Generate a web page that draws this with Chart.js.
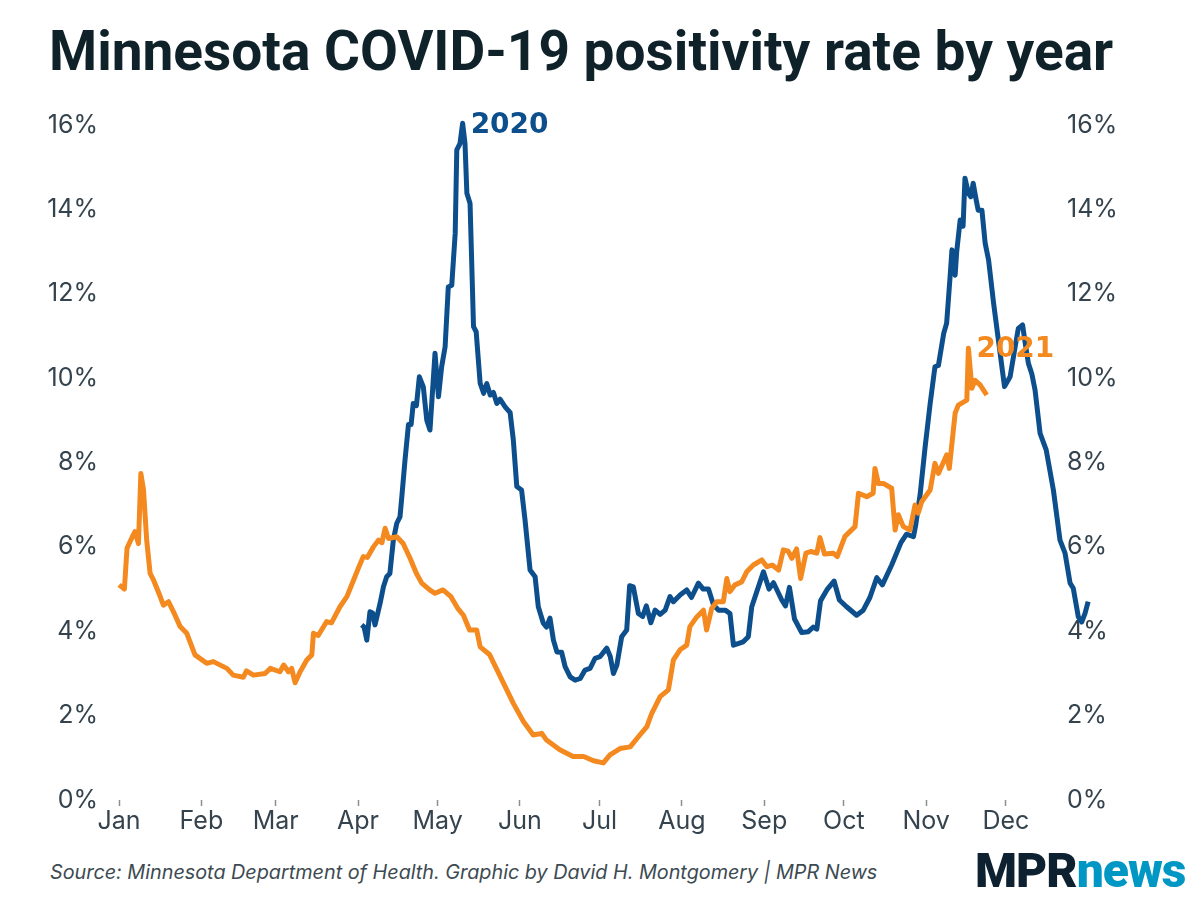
<!DOCTYPE html>
<html>
<head>
<meta charset="utf-8">
<script src="https://cdn.jsdelivr.net/npm/chart.js@4.4.1/dist/chart.umd.min.js"></script>
<style>
  html, body { margin: 0; padding: 0; background: #ffffff; }
  #wrap { position: relative; width: 1200px; height: 900px; overflow: hidden; background: #ffffff; }
  #title { position: absolute; left: 49px; top: 20px; margin: 0; font-family: Roboto, sans-serif; font-weight: 700;
           font-size: 55px; line-height: 62px; color: #0f2129; white-space: nowrap; letter-spacing: 0px; }
  #chartBox { position: absolute; left: 0; top: 100px; width: 1200px; height: 750px; }
  #source { position: absolute; left: 50px; top: 862px; font-family: Inter, sans-serif; font-style: italic;
            font-size: 19.8px; line-height: 20px; color: #3d4a52; white-space: nowrap; }
  #logo { position: absolute; left: 975px; top: 847px; font-family: Roboto, sans-serif; font-weight: 900;
          font-size: 48px; line-height: 48px; letter-spacing: -1px; white-space: nowrap; }
  #logo .mpr { color: #0d2131; }
  #logo .news { color: #0097c4; }
</style>
</head>
<body>
<div id="wrap">
  <h1 id="title">Minnesota COVID-19 positivity rate by year</h1>
  <div id="chartBox"><canvas id="chart"></canvas></div>
  <div id="source">Source: Minnesota Department of Health. Graphic by David H. Montgomery | MPR News</div>
  <div id="logo"><span class="mpr">MPR</span><span class="news">news</span></div>
</div>
<script>
// ---- Data (day of year, 0 = Jan 1; values in percent) ----
const monthLabels = ["Jan","Feb","Mar","Apr","May","Jun","Jul","Aug","Sep","Oct","Nov","Dec"];
const monthStartDays = [0, 31, 59, 90, 120, 151, 181, 212, 243, 273, 304, 334];
const yTickValues = [0, 2, 4, 6, 8, 10, 12, 14, 16];

const days2020 = [91.4,92.3,93.3,94.5,95.5,96.4,98.3,99.6,100.8,102,103.3,104.6,105.8,106.5,107.7,109,110,110.8,112,113.1,
  114.6,115.9,117.1,119,120.3,121.5,122.8,124,125.3,126.6,127.2,128.4,129.4,130.3,131,132.2,133.5,134.5,136,137.3,
  138.5,139.8,141,142.3,143.5,145.4,147.3,148.5,149.8,151.6,152.9,154.8,156.7,157.9,159.8,161,162.3,163.6,164.9,166.7,
  168,169.9,171.8,173.7,175.5,177.4,179.3,181.2,183.7,185,186.2,187.5,189.3,191.2,192.3,193.7,195.6,197.2,198.6,200.3,
  201.9,203.8,205.7,207.5,208.8,211.3,213.8,215.6,218.2,220,222,223.9,225.8,228.3,230.1,231.4,235.1,237,238.3,240.2,
  242.7,244.8,246.5,249.6,251,252.5,254.4,257.1,259.6,261.5,262.8,264.2,266.8,269.3,271.3,274,277.8,280.3,282.8,285.4,
  287.5,291,294.5,296.6,299.2,300,301.7,303.6,305.5,307.3,308.6,310.6,311.7,313,313.7,314.9,315.5,316.8,317.9,318.6,
  319.9,320.8,321.7,322.9,323.6,325,326.2,327.5,329.4,331.2,333.5,335.6,337.5,338.7,340.3,341.3,342.5,343.8,345,346.9,
  349.2,351.9,354.4,356.3,358.2,359.4,361.3,362.6,363.8,365];
const rate2020 = [4.15,4.10,3.79,4.46,4.43,4.15,4.66,5.06,5.29,5.37,6.16,6.56,6.71,7.19,8.06,8.90,8.90,9.40,9.35,10.03,
  9.79,9.00,8.77,10.59,9.56,10.27,10.74,12.16,12.20,13.43,15.41,15.56,16.04,15.56,14.38,14.14,11.22,11.10,9.88,9.64,
  9.87,9.60,9.66,9.40,9.50,9.32,9.18,8.53,7.43,7.35,6.64,5.45,5.29,4.58,4.19,4.10,4.31,3.79,3.51,3.50,
  3.16,2.92,2.84,2.88,3.08,3.12,3.36,3.40,3.60,3.40,3.00,3.20,3.87,4.03,5.08,5.05,4.42,4.35,4.60,4.20,
  4.50,4.40,4.50,4.82,4.70,4.86,4.98,4.80,5.14,5.00,5.00,4.62,4.50,4.50,4.42,3.67,3.75,3.87,4.58,4.94,
  5.41,5.00,5.15,4.74,4.60,5.04,4.29,3.97,3.99,4.10,4.05,4.72,5.00,5.19,4.74,4.58,4.38,4.50,4.80,5.27,
  5.10,5.57,6.10,6.30,6.24,6.50,7.23,8.37,9.40,10.27,10.30,11.06,11.30,12.40,13.04,12.44,13.00,13.75,13.60,14.74,
  14.38,14.30,14.62,14.20,13.98,13.98,13.20,12.80,11.77,10.90,9.80,10.03,10.74,11.18,11.26,10.83,10.35,10.10,9.72,8.69,
  8.30,7.35,6.16,5.85,5.14,5.02,4.34,4.22,4.42,4.70];

const days2021 = [0,2,3,5,6,7.3,8.2,9.2,10.4,11.7,13,15,16.7,18.6,20.5,23,25.5,28.6,33,35.5,
  40.6,43,46.8,48,50.6,55,57,60.6,62,63.8,65,66.3,68.2,70.7,72.6,73.2,75,78.2,80,83.2,
  85.8,88.3,90.1,92,93.5,95.8,97.7,99,100.2,101.5,104.6,107,109.6,112,114,117,119,122,125,127.5,
  129.7,132,134.7,136,139.5,143,148.5,152.3,156,159.2,161,166,171,175,178.7,182.4,184.9,188.7,192.5,195.6,
  198.8,200.6,203.8,206.9,208.8,211.3,213.8,215,217.6,220.1,221.3,223.2,225.1,227.6,228.9,230.1,232,234.5,236.4,238.9,
  242.1,244,246,248.4,250.2,252,253.4,255.2,256.7,258.7,260.5,262.8,264,265.7,269,270.5,273.4,277.2,278.5,281.6,
  284,284.7,286,288,291,292.3,293.5,295.4,297.9,299.8,301,302.3,305.5,307.3,308.6,311.7,312.7,314.9,316.1,319.3,
  319.9,321.2,322.4,324.3,326.8];
const rate2021 = [5.10,5.00,5.97,6.24,6.36,6.08,7.74,7.35,6.16,5.37,5.21,4.90,4.62,4.70,4.46,4.11,3.95,3.44,3.24,3.28,
  3.12,2.96,2.91,3.06,2.96,3.00,3.12,3.04,3.20,3.04,3.12,2.78,3.04,3.32,3.44,3.95,3.90,4.23,4.20,4.58,
  4.82,5.21,5.49,5.77,5.75,6.00,6.16,6.10,6.44,6.20,6.24,6.08,5.73,5.37,5.14,4.98,4.90,4.98,4.82,4.55,
  4.38,4.03,4.03,3.63,3.45,3.00,2.29,1.86,1.54,1.58,1.42,1.19,1.03,1.03,0.93,0.88,1.07,1.22,1.26,1.50,
  1.74,2.05,2.45,2.61,3.32,3.56,3.67,4.11,4.34,4.50,4.03,4.54,4.70,4.70,5.25,4.94,5.10,5.17,5.41,5.57,
  5.69,5.53,5.57,5.45,5.93,5.90,5.73,5.95,5.25,5.85,5.89,5.85,6.22,5.83,5.85,5.77,6.25,6.48,7.27,7.19,
  7.27,7.86,7.50,7.50,7.39,6.40,6.76,6.48,6.40,6.99,6.80,7.07,7.35,7.98,7.74,8.18,7.86,9.17,9.36,9.48,
  10.71,9.76,9.95,9.84,9.60];

// visible day window of the x axis (Dec data runs slightly past the right edge, as in the original)
const xWindow = [-5.3, 354.4];

const toPoints = (xs, ys) => xs.map((x, i) => ({ x: x, y: ys[i] }));

const COLOR_2020 = '#0c4f8c';
const COLOR_2021 = '#f3891f';
const TICK_COLOR = '#34434d';

// Series labels drawn next to each series' peak, positioned through the scales
const seriesLabels = {
  id: 'seriesLabels',
  afterDatasetsDraw(chart) {
    const ctx = chart.ctx;
    chart.data.datasets.forEach((ds, i) => {
      const meta = chart.getDatasetMeta(i);
      let best = 0;
      ds.data.forEach((p, j) => { if (p.y > ds.data[best].y) best = j; });
      const el = meta.data[best];
      ctx.save();
      ctx.font = 'bold 28px "DejaVu Sans", sans-serif';
      ctx.fillStyle = ds.borderColor;
      ctx.textAlign = 'left';
      ctx.textBaseline = 'middle';
      ctx.fillText(ds.label, el.x + 8, el.y + 2);
      ctx.restore();
    });
  }
};

const yAxisCommon = {
  min: 0, max: 16,
  grid: { display: false, drawTicks: false },
  border: { display: false },
  afterBuildTicks: (s) => { s.ticks = yTickValues.map(v => ({ value: v })); },
  ticks: {
    color: TICK_COLOR,
    font: { family: 'Inter, sans-serif', size: 25 },
    padding: 7,
    callback: (v) => v + '%'
  }
};

new Chart(document.getElementById('chart'), {
  type: 'line',
  data: {
    datasets: [
      { label: '2020', data: toPoints(days2020, rate2020), borderColor: COLOR_2020, borderWidth: 5,
        pointRadius: 0, tension: 0, borderJoinStyle: 'round', borderCapStyle: 'butt', clip: false, order: 2 },
      { label: '2021', data: toPoints(days2021, rate2021), borderColor: COLOR_2021, borderWidth: 5,
        pointRadius: 0, tension: 0, borderJoinStyle: 'round', borderCapStyle: 'butt', clip: false, order: 1 }
    ]
  },
  options: {
    responsive: true,
    maintainAspectRatio: false,
    animation: false,
    events: [],
    layout: { padding: { top: 25, left: 0, right: 0, bottom: 0 } },
    plugins: { legend: { display: false }, tooltip: { enabled: false }, title: { display: false } },
    scales: {
      x: {
        type: 'linear',
        bounds: 'data',
        afterDataLimits: (s) => { s.min = xWindow[0]; s.max = xWindow[1]; },
        afterFit: (s) => { s.height = 50; },
        afterBuildTicks: (s) => { s.ticks = monthStartDays.map(v => ({ value: v })); },
        grid: { display: true, drawOnChartArea: false, drawTicks: true, tickLength: 6, color: '#8a8f93', tickWidth: 1.5 },
        border: { display: false },
        ticks: {
          color: TICK_COLOR,
          font: { family: 'Inter, sans-serif', size: 25 },
          padding: 0,
          maxRotation: 0,
          autoSkip: false,
          callback: (v, i) => monthLabels[i]
        }
      },
      y: Object.assign({}, yAxisCommon, { position: 'left', afterFit: (s) => { s.width = 105; } }),
      y2: Object.assign({}, yAxisCommon, { position: 'right', afterFit: (s) => { s.width = 140; } })
    }
  },
  plugins: [seriesLabels]
});
</script>
</body>
</html>
